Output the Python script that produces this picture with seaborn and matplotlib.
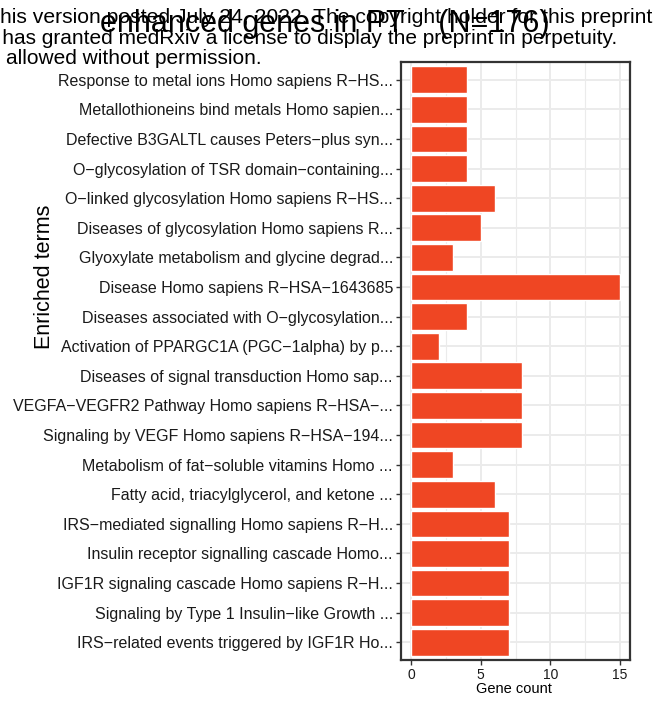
import matplotlib
matplotlib.use("Agg")
import matplotlib.pyplot as plt
from matplotlib.ticker import MultipleLocator
import seaborn as sns
import pandas as pd

terms = [
    "Response to metal ions Homo sapiens R\u2212HS...",
    "Metallothioneins bind metals Homo sapien...",
    "Defective B3GALTL causes Peters\u2212plus syn...",
    "O\u2212glycosylation of TSR domain\u2212containing...",
    "O\u2212linked glycosylation Homo sapiens R\u2212HS...",
    "Diseases of glycosylation Homo sapiens R...",
    "Glyoxylate metabolism and glycine degrad...",
    "Disease Homo sapiens R\u2212HSA\u22121643685",
    "Diseases associated with O\u2212glycosylation...",
    "Activation of PPARGC1A (PGC\u22121alpha) by p...",
    "Diseases of signal transduction Homo sap...",
    "VEGFA\u2212VEGFR2 Pathway Homo sapiens R\u2212HSA\u2212...",
    "Signaling by VEGF Homo sapiens R\u2212HSA\u2212194...",
    "Metabolism of fat\u2212soluble vitamins Homo ...",
    "Fatty acid, triacylglycerol, and ketone ...",
    "IRS\u2212mediated signalling Homo sapiens R\u2212H...",
    "Insulin receptor signalling cascade Homo...",
    "IGF1R signaling cascade Homo sapiens R\u2212H...",
    "Signaling by Type 1 Insulin\u2212like Growth ...",
    "IRS\u2212related events triggered by IGF1R Ho...",
]
gene_counts = [4, 4, 4, 4, 6, 5, 3, 15, 4, 2, 8, 8, 8, 3, 6, 7, 7, 7, 7, 7]
x_ticks = [0, 5, 10, 15]

title_text = "enhanced genes in PT    (N=176)"
notice_lines = [
    "this version posted July 24, 2022. The copyright holder for this preprint",
    "who has granted medRxiv a license to display the preprint in perpetuity.",
    "reuse allowed without permission.",
]

df = pd.DataFrame({"term": terms, "count": gene_counts})

sns.set_theme(style="white")
plt.rcParams["font.family"] = ["Liberation Sans", "DejaVu Sans"]

fig = plt.figure(figsize=(6.67, 7.02), dpi=100)
W, H = 667, 702
ax = fig.add_axes([400.6 / W, 1 - 660 / H, 229.8 / W, 598 / H])

sns.barplot(data=df, x="count", y="term", orient="h", color="#EF4623",
            saturation=1, width=0.9, ax=ax, zorder=3)

ax.set_xlim(-0.75, 15.75)
ax.set_ylim(len(terms) - 1 + 0.6, -0.6)
ax.set_xticks(x_ticks)
ax.xaxis.set_minor_locator(MultipleLocator(2.5))

ax.set_axisbelow(True)
ax.grid(which="major", axis="both", color="#EBEBEB", linewidth=1.4, zorder=0)
ax.grid(which="minor", axis="x", color="#EBEBEB", linewidth=0.8, zorder=0)

for s in ax.spines.values():
    s.set_color("#333333")
    s.set_linewidth(1.6)
    s.set_visible(True)

ax.tick_params(axis="both", which="major", length=3.5, width=1.0, color="#333333",
               direction="out", left=True, bottom=True)
ax.tick_params(axis="both", which="minor", length=0)
ax.tick_params(axis="y", labelsize=11.5, labelcolor="#1A1A1A", pad=2)
ax.tick_params(axis="x", labelsize=10, labelcolor="#1A1A1A", pad=2)
ax.set_xticklabels([str(t) for t in x_ticks])

ax.set_xlabel("")
ax.set_ylabel("")
fig.text(514 / W, 1 - 689 / H, "Gene count", ha="center", va="center",
         fontsize=10.5, color="black")
fig.text(45 / W, 1 - 277 / H, "Enriched terms", ha="center", va="center",
         rotation=90, fontsize=15.5, color="black")

# preprint notice text across the top
fig.text(652 / W, 1 - 23 / H, notice_lines[0], ha="right", va="baseline",
         fontsize=15.2, color="black")
fig.text(617 / W, 1 - 43.5 / H, notice_lines[1], ha="right", va="baseline",
         fontsize=15.0, color="black")
fig.text(262 / W, 1 - 63.5 / H, notice_lines[2], ha="right", va="baseline",
         fontsize=15.0, color="black")

fig.text(100 / W, 1 - 32 / H, title_text, ha="left", va="baseline",
         fontsize=22, color="black")

fig.savefig("out.png", dpi=100)
